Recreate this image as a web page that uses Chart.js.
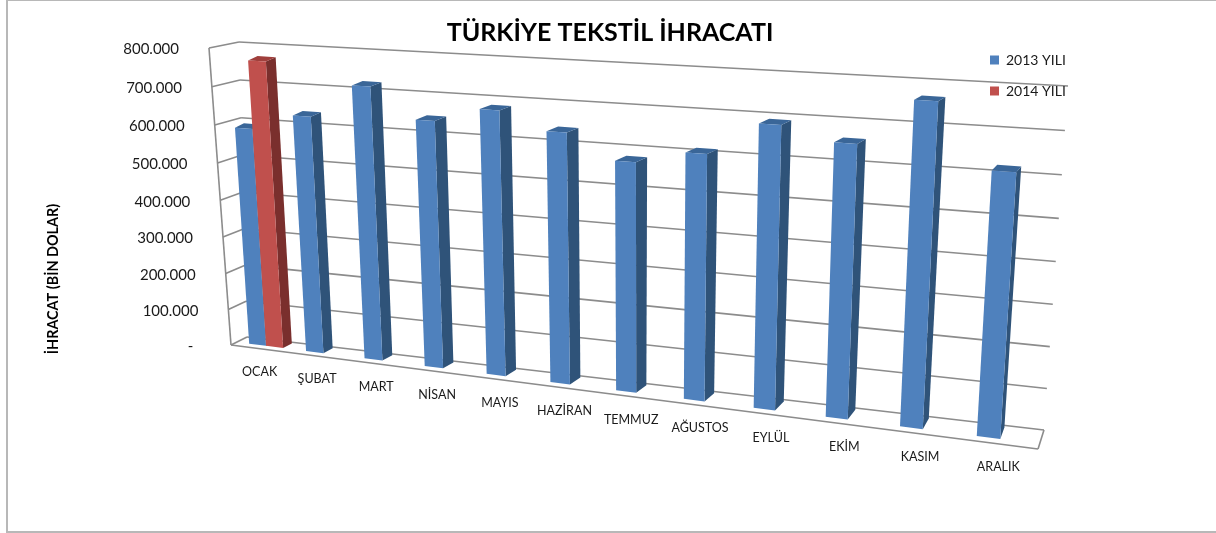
<!DOCTYPE html>
<html lang="tr">
<head>
<meta charset="utf-8">
<title>Türkiye Tekstil İhracatı</title>
<script src="https://cdn.jsdelivr.net/npm/chart.js@4"></script>
<style>
    html, body { margin: 0; padding: 0; background: #fff; }
    #frame { position: absolute; left: 6px; top: 0; width: 1208px; height: 530px; border: solid #b8b8b8; border-width: 1px 1px 2px 2px; }
    #chart { position: absolute; left: 0; top: 0; }
</style>
</head>
<body>
<div id="frame"></div>
<canvas id="chart" width="1216" height="533"></canvas>
<script>
const months = ["OCAK", "ŞUBAT", "MART", "NİSAN", "MAYIS", "HAZİRAN", "TEMMUZ", "AĞUSTOS", "EYLÜL", "EKİM", "KASIM", "ARALIK"];
const values2013 = [590000, 633000, 720000, 644000, 681000, 638000, 578000, 610000, 690000, 658000, 765000, 619000];
const values2014 = [768000, null, null, null, null, null, null, null, null, null, null, null];
const yTickLabels = ["-  ", "100.000", "200.000", "300.000", "400.000", "500.000", "600.000", "700.000", "800.000"];
const chartTitle = "TÜRKİYE TEKSTİL İHRACATI";
const yAxisTitle = "İHRACAT (BİN DOLAR)";

const FONT = "Lato, 'Open Sans', sans-serif";

// duzlem kose noktalari: sol ust, sag ust, sag alt, sol alt
const backQuad = [[239, 42], [1068, 86], [1044, 430], [247, 337]];
const frontQuad = [[209, 48], [1062, 94], [1038, 449], [231, 345]];
const barFrontQuad = [[218, 46.4], [1063.6, 92], [1040, 444], [238, 342.3]];
const barBackQuad = [[227, 42], [1067.5, 88], [1043, 432], [246, 338]];

function squareToQuad(q) {
    const [x0, y0] = q[0], [x1, y1] = q[1], [x2, y2] = q[2], [x3, y3] = q[3];
    const dx1 = x1 - x2, dx2 = x3 - x2, sx = x0 - x1 + x2 - x3;
    const dy1 = y1 - y2, dy2 = y3 - y2, sy = y0 - y1 + y2 - y3;
    const det = dx1 * dy2 - dx2 * dy1;
    const g = (sx * dy2 - dx2 * sy) / det;
    const h = (dx1 * sy - sx * dy1) / det;
    return [x1 - x0 + g * x1, x3 - x0 + h * x3, x0, y1 - y0 + g * y1, y3 - y0 + h * y3, y0, g, h];
}

const backH = squareToQuad(backQuad);
const frontH = squareToQuad(frontQuad);
const barFrontH = squareToQuad(barFrontQuad);
const barBackH = squareToQuad(barBackQuad);

// grafik alani piksellerini verilen perspektif duzleme tasir
function project(m, area, px, py) {
    const u = (px - area.left) / area.width;
    const t = (py - area.top) / area.height;
    const d = m[6] * u + m[7] * t + 1;
    return [(m[0] * u + m[1] * t + m[2]) / d, (m[3] * u + m[4] * t + m[5]) / d];
}

function fillFace(ctx, pts, color) {
    ctx.beginPath();
    pts.forEach((p, i) => i ? ctx.lineTo(p[0], p[1]) : ctx.moveTo(p[0], p[1]));
    ctx.closePath();
    ctx.fillStyle = color;
    ctx.fill();
}

function strokeLine(ctx, a, b) {
    ctx.beginPath();
    ctx.moveTo(a[0], a[1]);
    ctx.lineTo(b[0], b[1]);
    ctx.stroke();
}

const faceColors = [
    { front: "#4f81bd", side: "#2f5379", top: "#3a6698" },
    { front: "#c0504d", side: "#7a2f2d", top: "#a03f3c" }
];

const perspectivePlugin = {
    id: "perspective",
    afterLayout(chart) {
        // baslik ve gosterge grafik alanina gore degil, sayfaya gore duruyor
        chart.titleBlock.left = 4;
        chart.titleBlock.right = 1216;
        chart.legend.left = 973;
        chart.legend.right = 1100;
        chart.legend.top = 36;
    },
    beforeDraw(chart) {
        const ctx = chart.ctx;
        const area = chart.chartArea;
        const yScale = chart.scales.y;
        ctx.save();
        ctx.strokeStyle = "#8c8c8c";
        ctx.lineWidth = 1.6;
        yScale.ticks.forEach((tick, i) => {
            const py = yScale.getPixelForTick(i);
            const cornerBack = project(backH, area, area.left, py);
            strokeLine(ctx, cornerBack, project(backH, area, area.right, py));
            strokeLine(ctx, cornerBack, project(frontH, area, area.left, py));
        });
        // sol kenar ve taban
        strokeLine(ctx, project(frontH, area, area.left, area.top), project(frontH, area, area.left, area.bottom));
        strokeLine(ctx, project(frontH, area, area.left, area.bottom), project(frontH, area, area.right, area.bottom));
        strokeLine(ctx, project(frontH, area, area.right, area.bottom), project(backH, area, area.right, area.bottom));
        ctx.restore();
    },
    // Chart.js son seriyi once ciziyor, burada kirmizi mavinin ustune gelmeli
    beforeDatasetDraw() {
        return false;
    },
    afterDatasetsDraw(chart) {
        const ctx = chart.ctx;
        const area = chart.chartArea;
        chart.data.datasets.forEach((dataset, index) => {
            const colors = faceColors[index];
            chart.getDatasetMeta(index).data.forEach((bar, i) => {
                if (dataset.data[i] === null) return;
                const x0 = bar.x - bar.width / 2;
                const x1 = bar.x + bar.width / 2;
                const fl = project(barFrontH, area, x0, bar.y);
                const fr = project(barFrontH, area, x1, bar.y);
                const bl = project(barBackH, area, x0, bar.y);
                const br = project(barBackH, area, x1, bar.y);
                const flb = project(barFrontH, area, x0, bar.base);
                const frb = project(barFrontH, area, x1, bar.base);
                const brb = project(barBackH, area, x1, bar.base);
                fillFace(ctx, [fr, br, brb, frb], colors.side);
                fillFace(ctx, [fl, fr, br, bl], colors.top);
                fillFace(ctx, [fl, fr, frb, flb], colors.front);
            });
        });
    },
    afterDraw(chart) {
        const ctx = chart.ctx;
        const area = chart.chartArea;
        const xScale = chart.scales.x;
        const yScale = chart.scales.y;
        ctx.save();
        ctx.fillStyle = "#1a1a1a";
        ctx.textBaseline = "middle";

        // ay etiketleri on kenar boyunca
        ctx.textAlign = "center";
        ctx.font = "12.5px " + FONT;
        months.forEach((label, i) => {
            const p = project(frontH, area, xScale.getPixelForTick(i), area.bottom);
            ctx.fillText(label, p[0] + 0.5, p[1] + 23);
        });

        // deger etiketleri egik sol kenari izliyor
        ctx.textAlign = "right";
        ctx.font = "15px " + FONT;
        yScale.ticks.forEach((tick, i) => {
            const p = project(frontH, area, area.left, yScale.getPixelForTick(i));
            ctx.fillText(yTickLabels[i], p[0] - 30, p[1] + 1.5);
        });

        // eksen basligi
        ctx.textAlign = "center";
        ctx.translate(53, 279);
        ctx.rotate(-Math.PI / 2);
        ctx.font = "bold 14.4px " + FONT;
        ctx.fillStyle = "#000";
        ctx.fillText(yAxisTitle, 0, 0);
        ctx.restore();
    }
};

new Chart(document.getElementById("chart"), {
    type: "bar",
    data: {
        labels: months,
        datasets: [
            { label: "2013 YILI", data: values2013, backgroundColor: "#4f81bd", categoryPercentage: 0.6, barPercentage: 1 },
            { label: "2014 YILI", data: values2014, backgroundColor: "#c0504d", categoryPercentage: 0.6, barPercentage: 1 }
        ]
    },
    options: {
        responsive: false,
        animation: false,
        events: [],
        layout: { padding: { left: 0, right: 148, top: 0, bottom: 180 } },
        plugins: {
            tooltip: { enabled: false },
            title: {
                display: true,
                text: chartTitle,
                color: "#000",
                font: { family: FONT, size: 25, weight: "bold" },
                padding: { top: 18, bottom: 1 }
            },
            legend: {
                position: "chartArea",
                align: "start",
                labels: {
                    color: "#1a1a1a",
                    font: { family: FONT, size: 14 },
                    boxWidth: 9,
                    boxHeight: 9,
                    padding: 17
                }
            }
        },
        scales: {
            x: {
                ticks: { display: false },
                grid: { display: false },
                border: { display: false }
            },
            y: {
                min: 0,
                max: 800000,
                afterFit(scale) { scale.width = 205; },
                ticks: { display: false, stepSize: 100000 },
                grid: { display: false },
                border: { display: false }
            }
        }
    },
    plugins: [perspectivePlugin]
});
</script>
</body>
</html>
